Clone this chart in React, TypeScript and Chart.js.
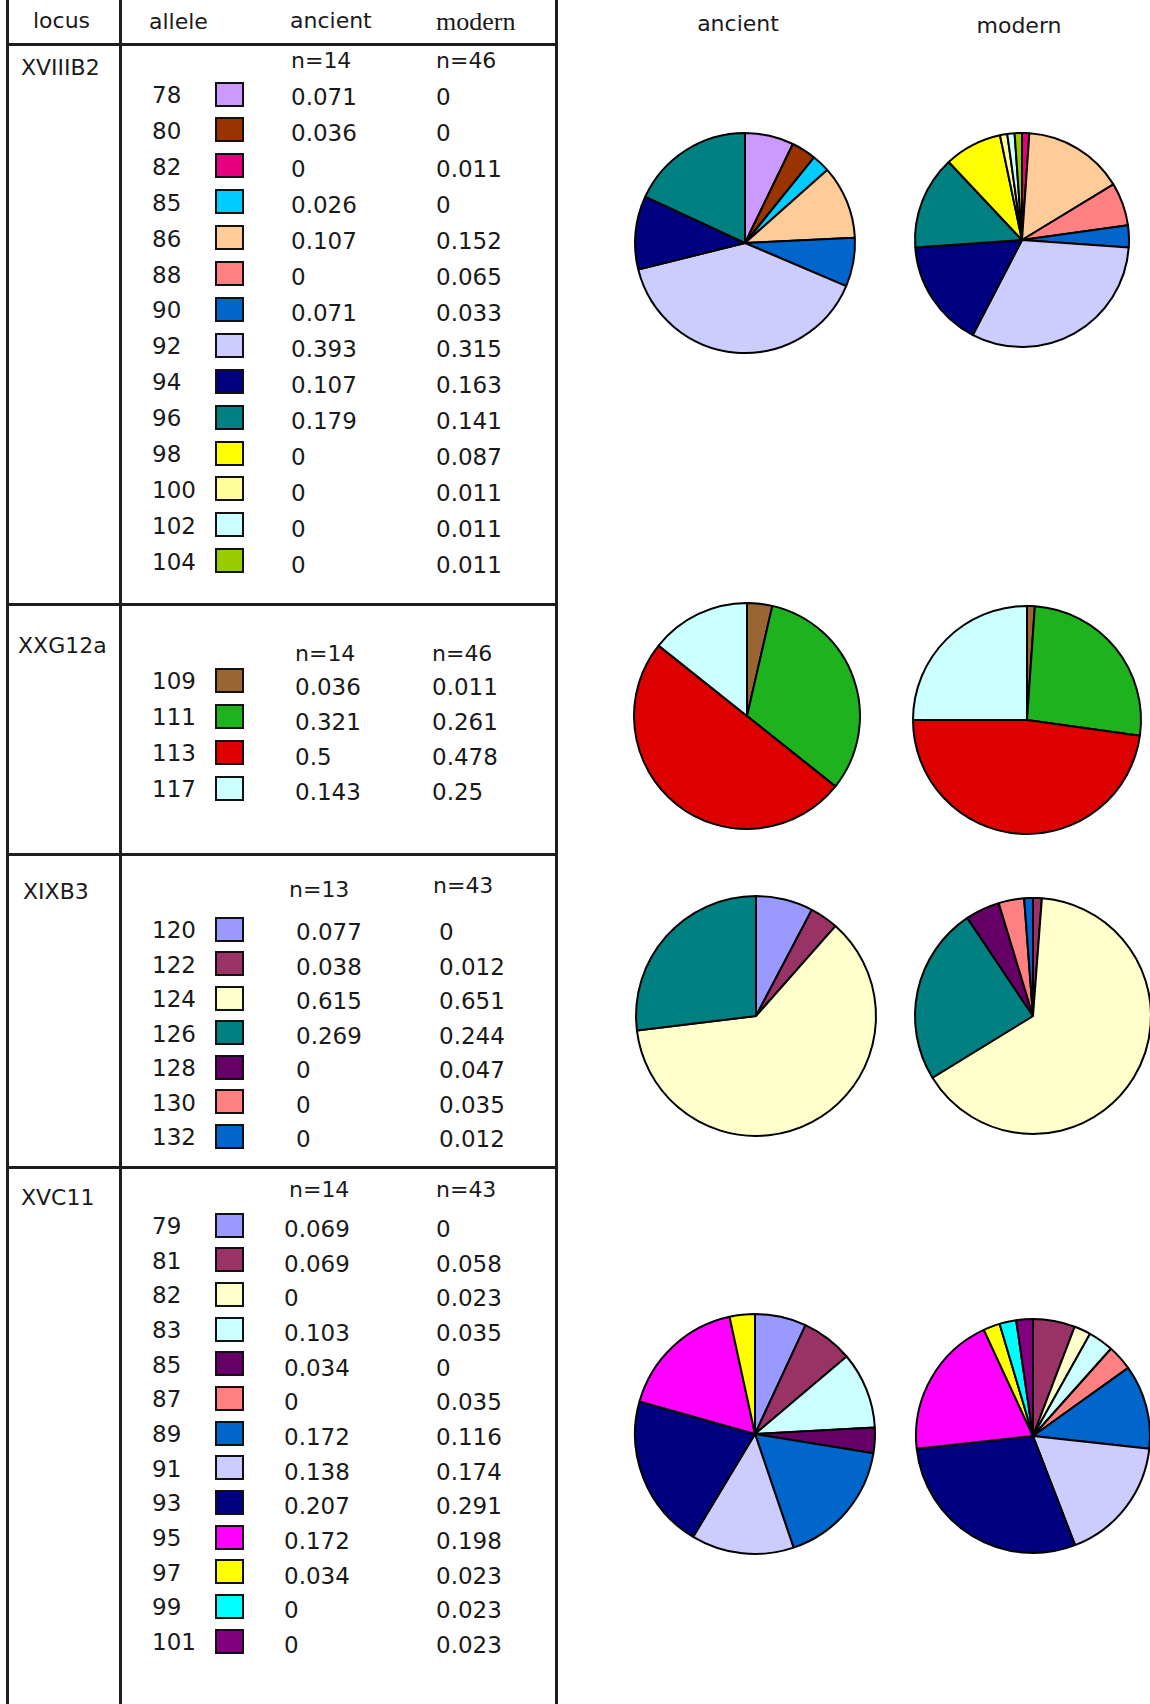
import React, { useEffect, useRef } from "react";
import { Chart, registerables } from "chart.js";

Chart.register(...registerables);

// ---------- data ----------
const loci = ["XVIIIB2", "XXG12a", "XIXB3", "XVC11"];
const nAncient = [14, 14, 13, 14];
const nModern = [46, 46, 43, 43];

const xviiiAlleles = ["78", "80", "82", "85", "86", "88", "90", "92", "94", "96", "98", "100", "102", "104"];
const xviiiAncient = [0.071, 0.036, 0, 0.026, 0.107, 0, 0.071, 0.393, 0.107, 0.179, 0, 0, 0, 0];
const xviiiModern = [0, 0, 0.011, 0, 0.152, 0.065, 0.033, 0.315, 0.163, 0.141, 0.087, 0.011, 0.011, 0.011];
const xviiiColors = ["#CC99FF", "#993300", "#E6007E", "#00CCFF", "#FFCC99", "#FF8080", "#0066CC", "#CCCCFF", "#000080", "#008080", "#FFFF00", "#FFFF99", "#CCFFFF", "#99CC00"];

const xxgAlleles = ["109", "111", "113", "117"];
const xxgAncient = [0.036, 0.321, 0.5, 0.143];
const xxgModern = [0.011, 0.261, 0.478, 0.25];
const xxgColors = ["#996633", "#1EB31E", "#DD0000", "#CCFFFF"];

const xixAlleles = ["120", "122", "124", "126", "128", "130", "132"];
const xixAncient = [0.077, 0.038, 0.615, 0.269, 0, 0, 0];
const xixModern = [0, 0.012, 0.651, 0.244, 0.047, 0.035, 0.012];
const xixColors = ["#9999FF", "#993366", "#FFFFCC", "#008080", "#660066", "#FF8080", "#0066CC"];

const xvcAlleles = ["79", "81", "82", "83", "85", "87", "89", "91", "93", "95", "97", "99", "101"];
const xvcAncient = [0.069, 0.069, 0, 0.103, 0.034, 0, 0.172, 0.138, 0.207, 0.172, 0.034, 0, 0];
const xvcModern = [0, 0.058, 0.023, 0.035, 0, 0.035, 0.116, 0.174, 0.291, 0.198, 0.023, 0.023, 0.023];
const xvcColors = ["#9999FF", "#993366", "#FFFFCC", "#CCFFFF", "#660066", "#FF8080", "#0066CC", "#CCCCFF", "#000080", "#FF00FF", "#FFFF00", "#00FFFF", "#800080"];

const columnHeaders = ["locus", "allele", "ancient", "modern"];
const pieHeaders = ["ancient", "modern"];

// ---------- layout (positions / sizes only) ----------
const blocks = [
  { alleles: xviiiAlleles, anc: xviiiAncient, mod: xviiiModern, colors: xviiiColors },
  { alleles: xxgAlleles, anc: xxgAncient, mod: xxgModern, colors: xxgColors },
  { alleles: xixAlleles, anc: xixAncient, mod: xixModern, colors: xixColors },
  { alleles: xvcAlleles, anc: xvcAncient, mod: xvcModern, colors: xvcColors },
];

const blockLayout = [
  { labelX: 21, labelY: 68, nY: [61, 61], nX: [291, 436], rowY0: 95, rowStep: 35.9, valY0: 97, valStep: 36.0, valX: [291, 436] },
  { labelX: 18, labelY: 646, nY: [654, 654], nX: [295, 432], rowY0: 681, rowStep: 36, valY0: 687, valStep: 35, valX: [295, 432] },
  { labelX: 23, labelY: 892, nY: [890, 886], nX: [289, 433], rowY0: 930, rowStep: 34.5, valY0: 932, valStep: 34.5, valX: [296, 439] },
  { labelX: 21, labelY: 1198, nY: [1190, 1190], nX: [289, 436], rowY0: 1226, rowStep: 34.67, valY0: 1229, valStep: 34.67, valX: [284, 436] },
];

const pieLayout = [
  [{ cx: 745, cy: 243, r: 110 }, { cx: 1022, cy: 240, r: 107 }],
  [{ cx: 747, cy: 716, r: 113 }, { cx: 1027, cy: 720, r: 114 }],
  [{ cx: 756, cy: 1016, r: 120 }, { cx: 1033, cy: 1016, r: 118 }],
  [{ cx: 755, cy: 1434, r: 120 }, { cx: 1033, cy: 1436, r: 117 }],
];

const FONT = "'DejaVu Sans', Verdana, sans-serif";
const INK = "#1a1a1a";

function Txt(props: { x: number; y: number; size?: number; serif?: boolean; center?: boolean; children: React.ReactNode }) {
  const { x, y, size = 22, serif, center, children } = props;
  return (
    <div
      style={{
        position: "absolute",
        left: x,
        top: y,
        transform: center ? "translate(-50%, -50%)" : "translateY(-50%)",
        fontFamily: serif ? "'Liberation Serif', 'Times New Roman', serif" : FONT,
        fontSize: size,
        lineHeight: 1,
        color: INK,
        whiteSpace: "nowrap",
      }}
    >
      {children}
    </div>
  );
}

function Pie(props: { labels: string[]; values: number[]; colors: string[]; cx: number; cy: number; r: number }) {
  const { labels, values, colors, cx, cy, r } = props;
  const ref = useRef<HTMLCanvasElement>(null);
  const S = Math.round(2 * r + 8);
  useEffect(() => {
    const idx = values.map((_, i) => i).filter((i) => values[i] > 0);
    const chart = new Chart(ref.current as HTMLCanvasElement, {
      type: "pie",
      data: {
        labels: idx.map((i) => labels[i]),
        datasets: [
          {
            data: idx.map((i) => values[i]),
            backgroundColor: idx.map((i) => colors[i]),
            borderColor: "#000000",
            borderWidth: 2,
            radius: r,
          } as any,
        ],
      },
      options: {
        responsive: false,
        animation: false,
        devicePixelRatio: 1,
        events: [],
        layout: { padding: 0 },
        plugins: { legend: { display: false }, tooltip: { enabled: false } },
      },
    });
    return () => chart.destroy();
  }, []);
  return (
    <canvas
      ref={ref}
      width={S}
      height={S}
      style={{ position: "absolute", left: cx - S / 2, top: cy - S / 2, width: S, height: S }}
    />
  );
}

function Line(props: { x: number; y: number; w: number; h: number }) {
  return <div style={{ position: "absolute", left: props.x, top: props.y, width: props.w, height: props.h, background: "#1e1e1e" }} />;
}

export default function App() {
  const H = 1704;
  return (
    <div style={{ position: "absolute", left: 0, top: 0, width: 1150, height: H, overflow: "hidden", background: "#fff" }}>
      {/* table grid */}
      <Line x={6} y={0} w={3} h={H} />
      <Line x={119} y={0} w={3} h={H} />
      <Line x={555} y={0} w={2.5} h={H} />
      <Line x={6} y={43} w={551} h={3} />
      <Line x={6} y={603} w={551} h={2.5} />
      <Line x={6} y={853} w={551} h={2.5} />
      <Line x={6} y={1166} w={551} h={2.5} />

      {/* column headers */}
      <Txt x={33} y={21}>{columnHeaders[0]}</Txt>
      <Txt x={149} y={22}>{columnHeaders[1]}</Txt>
      <Txt x={290} y={21}>{columnHeaders[2]}</Txt>
      <Txt x={436} y={22} size={26} serif>{columnHeaders[3]}</Txt>

      {/* pie headers */}
      <Txt x={738} y={24} center>{pieHeaders[0]}</Txt>
      <Txt x={1019} y={26} center>{pieHeaders[1]}</Txt>

      {blocks.map((b, bi) => {
        const L = blockLayout[bi];
        return (
          <React.Fragment key={bi}>
            <Txt x={L.labelX} y={L.labelY}>{loci[bi]}</Txt>
            <Txt x={L.nX[0]} y={L.nY[0]}>{"n=" + nAncient[bi]}</Txt>
            <Txt x={L.nX[1]} y={L.nY[1]}>{"n=" + nModern[bi]}</Txt>
            {b.alleles.map((a, i) => {
              const y = L.rowY0 + i * L.rowStep;
              const vy = L.valY0 + i * L.valStep;
              return (
                <React.Fragment key={a}>
                  <Txt x={152} y={y} size={23}>{a}</Txt>
                  <div
                    style={{
                      position: "absolute",
                      left: 215,
                      top: y - 1 - 12.5,
                      width: 29,
                      height: 25,
                      boxSizing: "border-box",
                      border: "2.5px solid #111",
                      background: b.colors[i],
                    }}
                  />
                  <Txt x={L.valX[0]} y={vy} size={23}>{String(b.anc[i])}</Txt>
                  <Txt x={L.valX[1]} y={vy} size={23}>{String(b.mod[i])}</Txt>
                </React.Fragment>
              );
            })}
            <Pie labels={b.alleles} values={b.anc} colors={b.colors} {...pieLayout[bi][0]} />
            <Pie labels={b.alleles} values={b.mod} colors={b.colors} {...pieLayout[bi][1]} />
          </React.Fragment>
        );
      })}
    </div>
  );
}
